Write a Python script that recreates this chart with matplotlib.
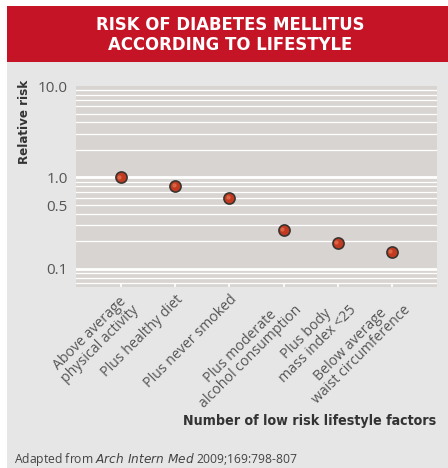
import matplotlib.pyplot as plt
from matplotlib.patches import Rectangle
from matplotlib.ticker import FixedLocator, NullFormatter
import numpy as np

# data
factors = ["Above average\nphysical activity", "Plus healthy diet", "Plus never smoked",
           "Plus moderate\nalcohol consumption", "Plus body\nmass index <25",
           "Below average\nwaist circumference"]
relative_risk = [1.0, 0.81, 0.60, 0.265, 0.193, 0.155]
ytick_vals = [0.1, 0.5, 1.0, 10.0]
ytick_labels = ["0.1", "0.5", "1.0", "10.0"]

title = "RISK OF DIABETES MELLITUS\nACCORDING TO LIFESTYLE"
red = '#c41425'
panel = '#e6e6e6'
plotbg = '#d8d4d1'

plt.rcParams['font.family'] = ['Open Sans', 'DejaVu Sans']

fig = plt.figure(figsize=(4.48, 4.68), dpi=100)
fig.patch.set_facecolor('white')

# gray panel + red banner
fig.patches.append(Rectangle((7/448, 0), 441/448, 1 - 62/468, transform=fig.transFigure,
                             facecolor=panel, edgecolor='none', zorder=-2))
fig.patches.append(Rectangle((7/448, 1 - 62/468), 441/448, 56/468, transform=fig.transFigure,
                             facecolor=red, edgecolor='none', zorder=-2))
fig.text(230/448, 1 - 35/468, title, ha='center', va='center', color='white',
         fontsize=13.2, fontweight='bold', family=['DejaVu Sans'], stretch='condensed',
         linespacing=1.15)

ax = fig.add_axes([76/448, 1 - 286.7/468, 361/448, 200.7/468])
ax.set_zorder(2)
ax.set_facecolor(plotbg)
x = np.arange(len(factors))
ax.set_yscale('log')
ax.set_ylim(0.064, 10)
ax.set_xlim(-0.83, len(factors) - 1 + 0.83)

# grid lines at every log step
minor = [v * 10.0**e for e in (-2, -1, 0) for v in range(2, 10)]
for v in minor:
    if 0.064 < v < 10:
        ax.axhline(v, color='white', lw=0.9, zorder=1)
for v in [0.1, 1.0]:
    ax.axhline(v, color='white', lw=2.0, zorder=1)

ax.plot(x, relative_risk, 'o', ms=8, mfc='#c23a20', mec='#3a3430', mew=1.2, zorder=3)
ax.plot(x - 0.03, [r * 1.02 for r in relative_risk], 'o', ms=3, mfc='#e0704f', mec='none',
        zorder=4, alpha=0.8)

for s in ax.spines.values():
    s.set_visible(False)

ax.yaxis.set_major_locator(FixedLocator(ytick_vals))
ax.set_yticklabels(ytick_labels)
ax.yaxis.set_minor_formatter(NullFormatter())
ax.tick_params(axis='y', which='both', length=0, labelsize=11, labelcolor='#555555', pad=6)

ax.set_xticks(x)
ax.set_xticklabels(factors, rotation=45, ha='right', rotation_mode='anchor',
                   multialignment='center', linespacing=1.0)
ax.tick_params(axis='x', direction='in', length=3, color='white', width=1.2,
               labelsize=10.2, labelcolor='#555555', pad=4)

ax.set_ylabel("Relative risk", fontsize=9.5, fontweight='bold', color='#333333',
              family=['DejaVu Sans'], stretch='condensed')
ax.yaxis.set_label_coords(-0.125, 0.82)

fig.text(436/448, 1 - 421/468, "Number of low risk lifestyle factors", ha='right', va='center',
         fontsize=10.2, fontweight='bold', color='#333333', family=['DejaVu Sans'],
         stretch='condensed')
fig.text(14/448, 1 - 459/468, r"Adapted from $\it{Arch\ Intern\ Med}$ 2009;169:798-807",
         ha='left', va='center', fontsize=8.7, color='#444444')

fig.savefig('out.png', dpi=100)
